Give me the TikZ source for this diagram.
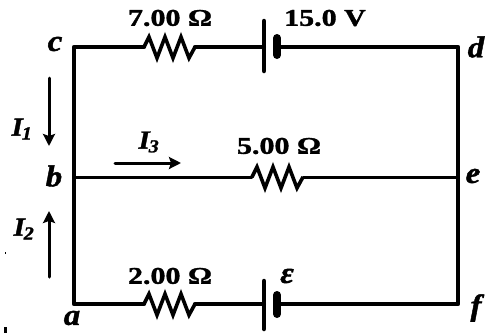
\documentclass[tikz,border=0pt]{standalone}
\usepackage{fontspec}
\setmainfont{Liberation Serif}
\newfontfamily\valfont[FakeStretch=1.25,FakeBold=1.5]{Liberation Serif}
\newfontfamily\letfont[FakeStretch=1.1,FakeBold=1.5]{Liberation Serif}
\usetikzlibrary{arrows.meta}
\tikzset{
  x=1pt,y=-1pt,
  thickwire/.style={line width=4.2pt,line cap=round,line join=round},
  thinwire/.style={line width=3pt,line cap=round,line join=round},
  zig/.style={line width=3.6pt,line join=miter,miter limit=3},
  plate/.style={line width=4.5pt,line cap=round},
  shortplate/.style={line width=8pt,line cap=round},
  currentarrow/.style={line width=3pt,line cap=round,-{Stealth[length=12pt,width=12pt,inset=2pt]}},
  val/.style={inner sep=0pt,font=\valfont\fontsize{24}{24}\selectfont\bfseries},
  ptlabel/.style={inner sep=0pt,font=\letfont\fontsize{30}{30}\selectfont\bfseries\itshape},
  cur/.style={inner sep=0pt,font=\letfont\fontsize{26}{26}\selectfont\bfseries\itshape}
}
\begin{document}
\begin{tikzpicture}
\useasboundingbox (0,0) rectangle (503,333);
\coordinate (c) at (74,47);
\coordinate (d) at (458,47);
\coordinate (b) at (74,177);
\coordinate (e) at (458,177);
\coordinate (a) at (74,304);
\coordinate (f) at (458,304);
\coordinate (r1a) at (144,47);
\coordinate (r1b) at (195,47);
\coordinate (r2a) at (252,177);
\coordinate (r2b) at (303,177);
\coordinate (r3a) at (144,304);
\coordinate (r3b) at (195,304);
\coordinate (b1a) at (264,47);
\coordinate (b1b) at (277,47);
\coordinate (b2a) at (264,304);
\coordinate (b2b) at (277,304);
% outer loop
\draw[thickwire] (b1b) -- (d) -- (f) -- (b2b);
\draw[thickwire] (b2a) -- (r3b);
\draw[thickwire] (r3a) -- (a) -- (c) -- (r1a);
\draw[thickwire] (r1b) -- (b1a);
% middle branch
\draw[thinwire] (b) -- (r2a);
\draw[thinwire] (r2b) -- (e);
% resistors
\draw[zig] (r1a) -- ++(5,-10) -- ++(8,21) -- ++(8,-21) -- ++(8,21) -- ++(8,-21) -- ++(8,21) -- (r1b);
\draw[zig] (r2a) -- ++(5,-10) -- ++(8,21) -- ++(8,-21) -- ++(8,21) -- ++(8,-21) -- ++(8,21) -- (r2b);
\draw[zig] (r3a) -- ++(5,-10) -- ++(8,21) -- ++(8,-21) -- ++(8,21) -- ++(8,-21) -- ++(8,21) -- (r3b);
% batteries
\draw[plate] (264,21) -- (264,71);
\draw[shortplate] (277,38) -- (277,55);
\draw[plate] (264,281) -- (264,329);
\draw[shortplate] (277,295) -- (277,314);
% currents
\coordinate (i1a) at (49,78);
\coordinate (i1b) at (49,146);
\coordinate (i2a) at (49,277);
\coordinate (i2b) at (49,211);
\coordinate (i3a) at (115,163);
\coordinate (i3b) at (181,163);
\draw[currentarrow] (i1a) -- (i1b);
\draw[currentarrow] (i2a) -- (i2b);
\draw[currentarrow] (i3a) -- (i3b);
% labels
\node[val] (l7) at (170,18) {7.00 Ω};
\node[val] (l15) at (325,18) {15.0 V};
\node[val] (l5) at (279,146) {5.00 Ω};
\node[val] (l2) at (170,276) {2.00 Ω};
\node[ptlabel] (ltc) at (55,44) {c};
\node[ptlabel] (ltd) at (476,47) {d};
\node[ptlabel] (ltb) at (54,176) {b};
\node[ptlabel] (lte) at (473,176) {e};
\node[ptlabel] (lta) at (72,318) {a};
\node[ptlabel] (ltf) at (476,308) {f};
\node[ptlabel] (lteps) at (287,276) {ε};
\node[cur] (li1) at (22,129) {I\textsubscript{\kern-1pt 1}};
\node[cur] (li2) at (24,229) {I\textsubscript{\kern-1pt 2}};
\node[cur] (li3) at (149,142) {I\textsubscript{\kern-1pt 3}};
% specks in the scan
\fill (4,327) rectangle (7,333);
\fill (5,252) rectangle (6,254);
\end{tikzpicture}
\end{document}
